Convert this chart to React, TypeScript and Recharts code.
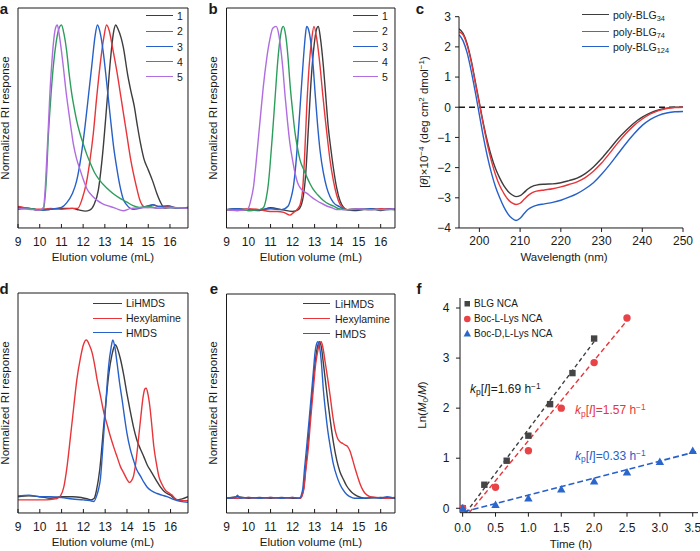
import React from 'react';
import { LineChart, ComposedChart, Line, Scatter, XAxis, YAxis, ReferenceLine } from 'recharts';

const W = 700;
const H = 551;
const FONT = '"Liberation Sans", Arial, Helvetica, sans-serif';
const INK = '#1a1a1a';
const TH = 0.01; // near-zero axis thickness so the plot box stays where the margins put it

const BLACK = '#3d3d3d';
const RED = '#e8353a';
const BLUE = '#2760c8';
const GREEN = '#2d9d5c';
const PURPLE = '#b06de0';

type Pt = [number, number];

// ---------- panel a : GPC traces 1-5 ----------
const aTrace1: Pt[] = [[9,0.005],[9.5,0],[10,-0.01],[10.5,-0.005],[11,0],[11.5,0],[11.8,-0.008],[12.1,-0.015],[12.3,-0.01],[12.5,0.02],[12.7,0.1],[12.9,0.3],[13.1,0.58],[13.25,0.8],[13.4,0.96],[13.5,1],[13.6,0.98],[13.75,0.93],[13.85,0.88],[14.05,0.73],[14.2,0.64],[14.35,0.56],[14.5,0.45],[14.65,0.35],[14.8,0.27],[15,0.21],[15.2,0.15],[15.4,0.08],[15.6,0.025],[15.75,0],[16,0.005],[16.4,0],[16.83,0]];
const aTrace2: Pt[] = [[9,0.01],[9.5,0],[10,-0.005],[10.5,0],[11,-0.005],[11.5,0],[11.75,0],[11.95,0.05],[12.15,0.14],[12.3,0.25],[12.47,0.41],[12.62,0.6],[12.78,0.78],[12.95,0.93],[13.08,1],[13.2,0.97],[13.35,0.88],[13.55,0.75],[13.75,0.6],[14,0.41],[14.2,0.26],[14.45,0.12],[14.6,0.05],[14.8,0.01],[15,0.005],[15.2,0.02],[15.5,0.01],[16,0.01],[16.4,0],[16.83,0.005]];
const aTrace3: Pt[] = [[9,-0.005],[9.5,0],[10,-0.01],[10.5,-0.005],[11,0.005],[11.24,0.03],[11.5,0.08],[11.7,0.15],[11.9,0.28],[12.09,0.45],[12.25,0.62],[12.4,0.78],[12.55,0.94],[12.66,1],[12.78,0.96],[12.93,0.85],[13.09,0.68],[13.25,0.5],[13.4,0.34],[13.55,0.22],[13.7,0.12],[13.85,0.05],[14,0.02],[14.3,-0.005],[14.6,0],[15,0.015],[15.2,0.02],[15.5,0.01],[15.9,0.015],[16.3,0],[16.83,0.005]];
const aTrace4: Pt[] = [[9,0],[9.5,0],[10,-0.01],[10.17,-0.005],[10.3,0.15],[10.4,0.4],[10.52,0.62],[10.63,0.78],[10.75,0.9],[10.86,0.97],[11,1],[11.12,0.95],[11.24,0.86],[11.35,0.74],[11.47,0.63],[11.6,0.54],[11.7,0.48],[11.85,0.41],[12.01,0.35],[12.15,0.3],[12.32,0.25],[12.55,0.19],[12.78,0.15],[13.1,0.11],[13.39,0.08],[13.7,0.055],[14,0.035],[14.3,0.015],[14.6,0.005],[15,0.01],[15.5,0],[16,0.005],[16.83,0]];
const aTrace5: Pt[] = [[9,0],[9.5,-0.005],[10,-0.01],[10.17,0.005],[10.25,0.1],[10.32,0.26],[10.4,0.45],[10.47,0.63],[10.55,0.78],[10.63,0.9],[10.72,0.98],[10.81,1],[10.92,0.93],[11,0.86],[11.09,0.77],[11.2,0.65],[11.32,0.54],[11.45,0.43],[11.55,0.35],[11.7,0.27],[11.86,0.21],[12,0.16],[12.16,0.11],[12.4,0.07],[12.63,0.045],[12.9,0.025],[13.24,0.01],[13.5,0],[13.85,-0.013],[14.2,0],[15,0.005],[15.5,0],[16,0.005],[16.83,0]];

// ---------- panel b : GPC traces 1-5 ----------
const bTrace1: Pt[] = [[9,0],[9.5,0.005],[10,0],[10.5,-0.005],[11,0.01],[11.5,0],[12,-0.01],[12.26,0],[12.45,0.05],[12.6,0.2],[12.72,0.45],[12.85,0.72],[12.98,0.9],[13.1,0.99],[13.17,1],[13.27,0.93],[13.4,0.78],[13.5,0.63],[13.62,0.45],[13.75,0.32],[13.85,0.23],[14,0.12],[14.15,0.05],[14.3,0.015],[14.45,0],[14.8,-0.005],[15.2,0],[15.6,0.005],[16,-0.005],[16.4,0.005],[16.65,0]];
const bTrace2: Pt[] = [[9,0],[9.5,-0.005],[10,0.005],[10.5,0],[11,-0.01],[11.3,-0.01],[11.6,-0.015],[11.88,-0.03],[12.05,-0.015],[12.2,0],[12.35,0.03],[12.45,0.1],[12.55,0.3],[12.64,0.55],[12.75,0.78],[12.87,0.93],[12.97,1],[13.1,0.93],[13.25,0.78],[13.36,0.64],[13.47,0.51],[13.6,0.37],[13.7,0.27],[13.85,0.16],[14,0.08],[14.15,0.03],[14.3,0.01],[14.5,0],[15,0.005],[15.5,0],[16,0.005],[16.65,0]];
const bTrace3: Pt[] = [[9,0],[9.5,0.005],[10,-0.005],[10.5,0],[11,0.005],[11.5,0],[11.8,0.02],[11.92,0.06],[12.03,0.12],[12.15,0.25],[12.26,0.42],[12.38,0.63],[12.49,0.82],[12.58,0.95],[12.64,1],[12.73,0.98],[12.87,0.87],[12.95,0.76],[13.02,0.64],[13.13,0.47],[13.25,0.32],[13.4,0.2],[13.55,0.12],[13.7,0.07],[13.85,0.04],[14.15,0.015],[14.4,0],[15,0],[15.5,0.005],[16,0],[16.65,0.005]];
const bTrace4: Pt[] = [[9,0],[9.5,0],[10,-0.005],[10.5,0],[10.67,0.01],[10.8,0.06],[10.9,0.14],[10.97,0.23],[11.08,0.4],[11.2,0.6],[11.32,0.8],[11.43,0.93],[11.52,0.99],[11.58,1],[11.66,0.97],[11.73,0.91],[11.8,0.82],[11.88,0.69],[12,0.54],[12.11,0.42],[12.22,0.34],[12.34,0.27],[12.5,0.22],[12.64,0.18],[12.8,0.14],[12.94,0.11],[13.15,0.08],[13.4,0.05],[13.65,0.03],[13.85,0.02],[14.1,0.005],[14.5,0],[15,0.005],[15.5,0],[16,0],[16.65,0]];
const bTrace5: Pt[] = [[9,0],[9.5,-0.005],[9.9,0],[10,0.01],[10.1,0.05],[10.22,0.12],[10.33,0.24],[10.44,0.38],[10.55,0.52],[10.67,0.67],[10.82,0.82],[10.97,0.93],[11.1,0.99],[11.25,1],[11.35,0.97],[11.43,0.91],[11.55,0.78],[11.66,0.62],[11.77,0.48],[11.88,0.36],[12,0.27],[12.11,0.2],[12.22,0.15],[12.34,0.12],[12.5,0.1],[12.64,0.09],[12.85,0.07],[13.09,0.05],[13.3,0.035],[13.55,0.02],[13.8,0.01],[14,0],[14.5,0],[15,0.005],[15.5,0],[16,0],[16.65,0.005]];

// ---------- panel c : CD spectra ----------
const cBLG34: Pt[] = [[195,2.6],[196,2.45],[197,2.1],[198,1.55],[199,0.85],[200,0.15],[201,-0.55],[202,-1.15],[203,-1.65],[204,-2.05],[205,-2.35],[206,-2.6],[207,-2.78],[208,-2.9],[209,-2.96],[210,-2.93],[211,-2.82],[212,-2.7],[213,-2.62],[214,-2.58],[216,-2.55],[218,-2.54],[220,-2.5],[222,-2.43],[224,-2.35],[226,-2.2],[228,-1.98],[230,-1.7],[232,-1.38],[234,-1.05],[236,-0.77],[238,-0.52],[240,-0.33],[242,-0.19],[244,-0.09],[246,-0.03],[248,0],[250,0]];
const cBLG74: Pt[] = [[195,2.5],[196,2.4],[197,2.05],[198,1.5],[199,0.8],[200,0.1],[201,-0.6],[202,-1.25],[203,-1.8],[204,-2.25],[205,-2.6],[206,-2.85],[207,-3.05],[208,-3.17],[209,-3.22],[210,-3.18],[211,-3.05],[212,-2.92],[213,-2.83],[214,-2.78],[216,-2.74],[218,-2.7],[220,-2.64],[222,-2.56],[224,-2.47],[226,-2.33],[228,-2.12],[230,-1.85],[232,-1.52],[234,-1.18],[236,-0.87],[238,-0.6],[240,-0.39],[242,-0.22],[244,-0.11],[246,-0.04],[248,-0.01],[250,0]];
const cBLG124: Pt[] = [[195,2.4],[196,2.2],[197,1.8],[198,1.2],[199,0.5],[200,-0.25],[201,-1],[202,-1.65],[203,-2.2],[204,-2.65],[205,-3],[206,-3.3],[207,-3.53],[208,-3.68],[209,-3.75],[210,-3.68],[211,-3.52],[212,-3.38],[213,-3.3],[214,-3.25],[216,-3.2],[218,-3.15],[220,-3.08],[222,-2.98],[224,-2.86],[226,-2.7],[228,-2.5],[230,-2.22],[232,-1.9],[234,-1.55],[236,-1.2],[238,-0.88],[240,-0.6],[242,-0.4],[244,-0.27],[246,-0.19],[248,-0.15],[250,-0.14]];

// ---------- panel d : initiators ----------
const dLiHMDS: Pt[] = [[9,0.01],[9.5,0.015],[10,0.01],[10.5,0],[11,0.01],[11.5,0.01],[11.9,0.005],[12.2,-0.005],[12.35,-0.01],[12.5,0],[12.6,0.05],[12.75,0.18],[12.94,0.47],[13.05,0.63],[13.17,0.79],[13.3,0.9],[13.42,0.96],[13.47,0.97],[13.55,0.95],[13.7,0.88],[13.85,0.78],[14,0.66],[14.15,0.55],[14.3,0.45],[14.45,0.37],[14.62,0.31],[14.78,0.26],[14.93,0.21],[15.1,0.17],[15.23,0.14],[15.4,0.1],[15.54,0.07],[15.7,0.045],[15.84,0.03],[16,0.02],[16.15,0],[16.3,-0.01],[16.5,-0.005],[16.8,0.01]];
const dHexylamine: Pt[] = [[9,-0.01],[9.5,-0.01],[10,-0.01],[10.3,-0.01],[10.65,-0.005],[10.8,0],[10.95,0.015],[11.1,0.07],[11.25,0.2],[11.4,0.38],[11.56,0.58],[11.7,0.75],[11.87,0.89],[12,0.97],[12.14,1],[12.27,0.97],[12.4,0.92],[12.52,0.84],[12.63,0.75],[12.78,0.65],[12.94,0.54],[13.1,0.46],[13.24,0.39],[13.4,0.32],[13.55,0.26],[13.7,0.2],[13.85,0.16],[14,0.12],[14.11,0.1],[14.2,0.11],[14.3,0.14],[14.42,0.24],[14.54,0.39],[14.64,0.52],[14.74,0.64],[14.82,0.69],[14.88,0.695],[14.96,0.66],[15.05,0.58],[15.14,0.46],[15.23,0.33],[15.35,0.22],[15.46,0.14],[15.6,0.09],[15.77,0.05],[15.92,0.035],[16.07,0.02],[16.2,0],[16.3,-0.01],[16.5,-0.015],[16.8,-0.015]];
const dHMDS: Pt[] = [[9,0.015],[9.5,0.02],[10,0.01],[10.5,0.01],[11,0.005],[11.5,-0.005],[12,-0.01],[12.3,-0.015],[12.48,-0.02],[12.62,0.02],[12.7,0.06],[12.78,0.12],[12.88,0.3],[13,0.54],[13.1,0.74],[13.17,0.85],[13.27,0.95],[13.35,1],[13.45,0.95],[13.55,0.85],[13.66,0.73],[13.78,0.62],[13.9,0.5],[14,0.41],[14.15,0.31],[14.3,0.24],[14.45,0.18],[14.62,0.14],[14.78,0.1],[14.93,0.07],[15.15,0.045],[15.38,0.03],[15.6,0.02],[15.84,0.01],[16.1,-0.005],[16.45,-0.02],[16.8,-0.025]];

// ---------- panel e : initiators ----------
const eLiHMDS: Pt[] = [[9,0],[9.5,0.01],[10,0],[10.5,0.005],[11,0],[11.5,0.005],[12,0],[12.35,0],[12.5,0.06],[12.6,0.2],[12.7,0.35],[12.8,0.52],[12.92,0.72],[13.02,0.86],[13.12,0.96],[13.22,1],[13.3,0.97],[13.4,0.86],[13.5,0.74],[13.6,0.62],[13.71,0.5],[13.85,0.36],[14.01,0.24],[14.15,0.17],[14.31,0.12],[14.45,0.08],[14.61,0.05],[14.75,0.03],[14.92,0.015],[15.1,0.005],[15.3,0],[16,0.005],[16.65,0]];
const eHexylamine: Pt[] = [[9,0],[9.5,0],[10,0.005],[10.5,0],[11,0.005],[11.5,0],[12,0.005],[12.35,0],[12.5,0.05],[12.6,0.18],[12.72,0.33],[12.83,0.52],[12.95,0.71],[13.05,0.86],[13.13,0.93],[13.22,0.99],[13.3,1],[13.38,0.96],[13.48,0.87],[13.6,0.76],[13.71,0.65],[13.83,0.52],[13.94,0.43],[14.05,0.38],[14.16,0.36],[14.28,0.35],[14.39,0.34],[14.5,0.33],[14.61,0.3],[14.72,0.25],[14.84,0.19],[14.95,0.14],[15.07,0.09],[15.2,0.05],[15.3,0.03],[15.52,0.01],[15.8,0.005],[16.2,0],[16.65,0.005]];
const eHMDS: Pt[] = [[9,0],[9.4,0.005],[9.5,0.02],[9.6,0],[10,0.005],[10.5,0],[11,0.005],[11.5,0],[12,0.005],[12.3,0],[12.45,0.05],[12.55,0.2],[12.64,0.33],[12.75,0.5],[12.87,0.69],[12.95,0.82],[13.02,0.93],[13.1,0.99],[13.15,1],[13.22,0.97],[13.3,0.88],[13.4,0.69],[13.5,0.55],[13.6,0.43],[13.71,0.33],[13.85,0.22],[14.01,0.14],[14.15,0.09],[14.31,0.05],[14.45,0.025],[14.61,0.01],[14.8,0],[15.2,0],[15.6,0.005],[16,0],[16.3,0.01],[16.65,0]];

// ---------- panel f : kinetics ----------
const fBLGTime = [0, 0.33, 0.67, 1.0, 1.33, 1.67, 2.0];
const fBLGLn = [0, 0.47, 0.95, 1.45, 2.08, 2.7, 3.39];
const fLLysTime = [0, 0.5, 1.0, 1.5, 2.0, 2.5];
const fLLysLn = [0, 0.42, 1.15, 2.0, 2.91, 3.8];
const fDLLysTime = [0, 0.5, 1.0, 1.5, 2.0, 2.5, 3.0, 3.5];
const fDLLysLn = [0, 0.07, 0.2, 0.38, 0.54, 0.72, 0.93, 1.15];
const fFitBLG: Pt[] = [[0.05, -0.09], [2.0, 3.33]];
const fFitLLys: Pt[] = [[0.1, -0.09], [2.5, 3.75]];
const fFitDLLys: Pt[] = [[0.02, -0.07], [3.55, 1.13]];

// ticks
const gpcTicks = [9, 10, 11, 12, 13, 14, 15, 16];
const gpcMinor = [9.5, 10.5, 11.5, 12.5, 13.5, 14.5, 15.5, 16.5];
const cdXTicks = [200, 210, 220, 230, 240, 250];
const cdXMinor = [195, 205, 215, 225, 235, 245];
const cdYTicks = [-4, -3, -2, -1, 0, 1, 2, 3];
const cdYMinor = [-3.5, -2.5, -1.5, -0.5, 0.5, 1.5, 2.5];
const fXTicks = [0, 0.5, 1, 1.5, 2, 2.5, 3, 3.5];
const fXMinor = [0.25, 0.75, 1.25, 1.75, 2.25, 2.75, 3.25];
const fYTicks = [0, 1, 2, 3, 4];
const fYMinor = [0.5, 1.5, 2.5, 3.5];

const toXY = (pts: Pt[]) => pts.map(([x, y]) => ({ x, y }));
const zipXY = (xs: number[], ys: number[]) => xs.map((x, i) => ({ x, y: ys[i] }));
const tickStyle = { fontSize: 12, fill: INK, fontFamily: FONT };
const axisLine = { stroke: INK, strokeWidth: 1 };
const minus = (v: number) => (v < 0 ? `\u2212${Math.abs(v)}` : `${v}`);
const LW = 1.4;

type Series = { name: string; data: Pt[]; color: string };

function Gpc({ L, R, T, B, xMax, yMin, yMax, series }: any) {
  const xd = [9, xMax];
  const yd = [yMin, yMax];
  return (
    <div style={{ position: 'absolute', left: 0, top: 0 }}>
      <LineChart width={W} height={H} margin={{ top: T, left: L, right: W - R, bottom: H - B }}>
        <XAxis xAxisId="m" type="number" dataKey="x" domain={xd} allowDataOverflow ticks={gpcTicks} interval={0}
          height={TH} tickSize={-4} tickMargin={13} tick={tickStyle} axisLine={axisLine} tickLine={axisLine} />
        <XAxis xAxisId="n" type="number" dataKey="x" domain={xd} allowDataOverflow ticks={gpcMinor} interval={0}
          height={TH} tickSize={-2.5} tick={false} axisLine={false} tickLine={axisLine} />
        <XAxis xAxisId="t" orientation="top" type="number" dataKey="x" domain={xd} allowDataOverflow height={TH}
          tick={false} tickLine={false} axisLine={axisLine} />
        <YAxis yAxisId="m" type="number" dataKey="y" domain={yd} allowDataOverflow width={TH}
          tick={false} tickLine={false} axisLine={axisLine} />
        <YAxis yAxisId="r" orientation="right" type="number" dataKey="y" domain={yd} allowDataOverflow width={TH}
          tick={false} tickLine={false} axisLine={axisLine} />
        {series.map((s: Series) => (
          <Line key={s.name} xAxisId="m" yAxisId="m" data={toXY(s.data)} dataKey="y" type="monotone"
            stroke={s.color} strokeWidth={LW} dot={false} isAnimationActive={false} />
        ))}
      </LineChart>
    </div>
  );
}

function PanelC() {
  const xd = [195, 250];
  const yd = [-4, 3];
  const series: Series[] = [
    { name: '34', data: cBLG34, color: BLACK },
    { name: '74', data: cBLG74, color: RED },
    { name: '124', data: cBLG124, color: BLUE },
  ];
  return (
    <div style={{ position: 'absolute', left: 0, top: 0 }}>
      <LineChart width={W} height={H} margin={{ top: 16.7, left: 459, right: W - 683, bottom: H - 228 }}>
        <XAxis xAxisId="m" type="number" dataKey="x" domain={xd} allowDataOverflow ticks={cdXTicks} interval={0}
          height={TH} tickSize={4} tickMargin={4} tick={tickStyle} axisLine={axisLine} tickLine={axisLine} />
        <XAxis xAxisId="n" type="number" dataKey="x" domain={xd} allowDataOverflow ticks={cdXMinor} interval={0}
          height={TH} tickSize={2.5} tick={false} axisLine={false} tickLine={axisLine} />
        <YAxis yAxisId="m" type="number" dataKey="y" domain={yd} allowDataOverflow ticks={cdYTicks} interval={0}
          width={TH} tickSize={4} tickMargin={4} tick={tickStyle} tickFormatter={minus} axisLine={axisLine} tickLine={axisLine} />
        <YAxis yAxisId="n" type="number" dataKey="y" domain={yd} allowDataOverflow ticks={cdYMinor} interval={0}
          width={TH} tickSize={2.5} tick={false} axisLine={false} tickLine={axisLine} />
        <ReferenceLine xAxisId="m" yAxisId="m" y={0} stroke={INK} strokeWidth={1.3} strokeDasharray="6 4" />
        {series.map((s) => (
          <Line key={s.name} xAxisId="m" yAxisId="m" data={toXY(s.data)} dataKey="y" type="monotone"
            stroke={s.color} strokeWidth={LW} dot={false} isAnimationActive={false} />
        ))}
      </LineChart>
    </div>
  );
}

const Square = (p: any) => <rect x={p.cx - 3.2} y={p.cy - 3.2} width={6.4} height={6.4} fill="#454545" />;
const Dot = (p: any) => <circle cx={p.cx} cy={p.cy} r={3.7} fill="#e84448" />;
const Tri = (p: any) => (
  <polygon points={`${p.cx},${p.cy - 4.3} ${p.cx - 4.2},${p.cy + 3.2} ${p.cx + 4.2},${p.cy + 3.2}`} fill="#2a66cc" />
);

function PanelF() {
  const xd = [-0.04, 3.58];
  const yd = [-0.088, 4.2];
  return (
    <div style={{ position: 'absolute', left: 0, top: 0 }}>
      <ComposedChart width={W} height={H} margin={{ top: 298, left: 460, right: W - 698, bottom: H - 512.7 }}>
        <XAxis xAxisId="m" type="number" dataKey="x" domain={xd} allowDataOverflow ticks={fXTicks} interval={0}
          height={TH} tickSize={4} tickMargin={7} tick={tickStyle} tickFormatter={(v: number) => v.toFixed(1)}
          axisLine={axisLine} tickLine={axisLine} />
        <XAxis xAxisId="n" type="number" dataKey="x" domain={xd} allowDataOverflow ticks={fXMinor} interval={0}
          height={TH} tickSize={2.5} tick={false} axisLine={false} tickLine={axisLine} />
        <YAxis yAxisId="m" type="number" dataKey="y" domain={yd} allowDataOverflow ticks={fYTicks} interval={0}
          width={TH} tickSize={4} tickMargin={6.5} tick={tickStyle} axisLine={axisLine} tickLine={axisLine} />
        <YAxis yAxisId="n" type="number" dataKey="y" domain={yd} allowDataOverflow ticks={fYMinor} interval={0}
          width={TH} tickSize={2.5} tick={false} axisLine={false} tickLine={axisLine} />
        <Line xAxisId="m" yAxisId="m" data={toXY(fFitBLG)} dataKey="y" type="linear" stroke={BLACK}
          strokeWidth={1.4} strokeDasharray="4 3" dot={false} isAnimationActive={false} />
        <Line xAxisId="m" yAxisId="m" data={toXY(fFitLLys)} dataKey="y" type="linear" stroke={RED}
          strokeWidth={1.4} strokeDasharray="5 3" dot={false} isAnimationActive={false} />
        <Line xAxisId="m" yAxisId="m" data={toXY(fFitDLLys)} dataKey="y" type="linear" stroke={BLUE}
          strokeWidth={1.6} strokeDasharray="6 3" dot={false} isAnimationActive={false} />
        <Scatter xAxisId="m" yAxisId="m" data={zipXY(fBLGTime, fBLGLn)} dataKey="y" shape={Square} isAnimationActive={false} />
        <Scatter xAxisId="m" yAxisId="m" data={zipXY(fLLysTime, fLLysLn)} dataKey="y" shape={Dot} isAnimationActive={false} />
        <Scatter xAxisId="m" yAxisId="m" data={zipXY(fDLLysTime, fDLLysLn)} dataKey="y" shape={Tri} isAnimationActive={false} />
      </ComposedChart>
    </div>
  );
}

// ---------- text helpers ----------
function T({ x, y, children, size = 11.5, rot = 0, anchor = 'middle', color = INK, bold = false }: any) {
  const tx = anchor === 'start' ? '0' : anchor === 'end' ? '-100%' : '-50%';
  return (
    <div style={{
      position: 'absolute', left: x, top: y, transform: `translate(${tx}, -50%) rotate(${rot}deg)`,
      fontSize: size, color, fontWeight: bold ? 700 : 400, whiteSpace: 'nowrap', lineHeight: 1, fontFamily: FONT,
    }}>{children}</div>
  );
}

const sup = (s: string) => <span style={{ fontSize: '0.7em', position: 'relative', top: '-0.45em' }}>{s}</span>;
const sub = (s: string) => <span style={{ fontSize: '0.7em', position: 'relative', top: '0.3em' }}>{s}</span>;

function LineLegend({ x1, x2, tx, rows, size = 10.5 }: any) {
  return (
    <>
      {rows.map((r: any) => (
        <React.Fragment key={r.key}>
          <div style={{ position: 'absolute', left: x1, top: r.y - 0.75, width: x2 - x1, height: 0, borderTop: `1.5px solid ${r.color}` }} />
          <T x={tx} y={r.y} anchor="start" size={size}>{r.label}</T>
        </React.Fragment>
      ))}
    </>
  );
}

const numRows = (ys: number[]) =>
  [BLACK, RED, BLUE, GREEN, PURPLE].map((c, i) => ({ key: i, y: ys[i], color: c, label: String(i + 1) }));
const initRows = (ys: number[]) => [
  { key: 0, y: ys[0], color: BLACK, label: 'LiHMDS' },
  { key: 1, y: ys[1], color: RED, label: 'Hexylamine' },
  { key: 2, y: ys[2], color: BLUE, label: 'HMDS' },
];

const kp = (val: string, color: string, x: number, y: number) => (
  <T x={x} y={y} anchor="start" size={12} color={color}>
    <i>k</i>{sub('p')}[<i>I</i>]={val} h{sup('\u22121')}
  </T>
);

export default function App() {
  const aSeries: Series[] = [
    { name: '1', data: aTrace1, color: BLACK }, { name: '2', data: aTrace2, color: RED },
    { name: '3', data: aTrace3, color: BLUE }, { name: '4', data: aTrace4, color: GREEN },
    { name: '5', data: aTrace5, color: PURPLE },
  ];
  const bSeries: Series[] = [
    { name: '1', data: bTrace1, color: BLACK }, { name: '2', data: bTrace2, color: RED },
    { name: '3', data: bTrace3, color: BLUE }, { name: '4', data: bTrace4, color: GREEN },
    { name: '5', data: bTrace5, color: PURPLE },
  ];
  const dSeries: Series[] = [
    { name: 'LiHMDS', data: dLiHMDS, color: BLACK }, { name: 'Hex', data: dHexylamine, color: RED },
    { name: 'HMDS', data: dHMDS, color: BLUE },
  ];
  const eSeries: Series[] = [
    { name: 'LiHMDS', data: eLiHMDS, color: BLACK }, { name: 'Hex', data: eHexylamine, color: RED },
    { name: 'HMDS', data: eHMDS, color: BLUE },
  ];
  const rowsABC = [16, 31.3, 46.6, 61.9, 77.2];
  return (
    <div style={{ position: 'absolute', left: 0, top: 0, width: W, height: H, background: '#fff', overflow: 'hidden', fontFamily: FONT }}>
      <Gpc L={18} R={188} T={8} B={228} xMax={16.83} yMin={-0.107} yMax={1.093} series={aSeries} />
      <Gpc L={226.5} R={395} T={8} B={228} xMax={16.65} yMin={-0.1} yMax={1.1} series={bSeries} />
      <PanelC />
      <Gpc L={18} R={188} T={293} B={513} xMax={16.8} yMin={-0.093} yMax={1.297} series={dSeries} />
      <Gpc L={226.5} R={395} T={294} B={513} xMax={16.65} yMin={-0.094} yMax={1.305} series={eSeries} />
      <PanelF />

      {/* panel letters */}
      <T x={4} y={8} size={15} bold>a</T>
      <T x={213} y={8} size={15} bold>b</T>
      <T x={420} y={8} size={15} bold>c</T>
      <T x={4} y={288} size={15} bold>d</T>
      <T x={214} y={288} size={15} bold>e</T>
      <T x={419} y={288} size={15} bold>f</T>

      {/* axis titles */}
      <T x={6} y={118} rot={-90}>Normalized RI response</T>
      <T x={213.5} y={118} rot={-90}>Normalized RI response</T>
      <T x={6} y={403} rot={-90}>Normalized RI response</T>
      <T x={213.5} y={403} rot={-90}>Normalized RI response</T>
      <T x={103} y={258}>Elution volume (mL)</T>
      <T x={311} y={258}>Elution volume (mL)</T>
      <T x={103} y={543}>Elution volume (mL)</T>
      <T x={311} y={543}>Elution volume (mL)</T>
      <T x={564} y={257.5}>Wavelength (nm)</T>
      <T x={571} y={545}>Time (h)</T>
      <T x={425} y={122} rot={-90}>[<i>θ</i>]×10{sup('\u22124')} (deg cm{sup('2')} dmol{sup('\u22121')})</T>
      <T x={423} y={405} rot={-90}>Ln(<i>M</i>{sub('0')}/<i>M</i>)</T>

      {/* legends */}
      <LineLegend x1={146} x2={173} tx={177} rows={numRows(rowsABC)} />
      <LineLegend x1={353} x2={378} tx={382} rows={numRows(rowsABC)} />
      <LineLegend x1={582} x2={609} tx={613} rows={[
        { key: 0, y: 15, color: BLACK, label: <>poly-BLG{sub('34')}</> },
        { key: 1, y: 31.5, color: RED, label: <>poly-BLG{sub('74')}</> },
        { key: 2, y: 47, color: BLUE, label: <>poly-BLG{sub('124')}</> },
      ]} />
      <LineLegend x1={93} x2={122} tx={126} rows={initRows([303.3, 318.3, 333])} />
      <LineLegend x1={303} x2={330} tx={335} rows={initRows([304, 319, 334])} />

      {/* panel f legend */}
      <svg width={W} height={H} style={{ position: 'absolute', left: 0, top: 0, pointerEvents: 'none' }}>
        <rect x={464.5} y={301} width={5.5} height={5.5} fill="#454545" />
        <circle cx={467.3} cy={319} r={3.3} fill="#e84448" />
        <polygon points="467.3,329.7 463.6,336.5 471,336.5" fill="#2a66cc" />
      </svg>
      <T x={474} y={304} anchor="start" size={10}>BLG NCA</T>
      <T x={474} y={319} anchor="start" size={10}>Boc-L-Lys NCA</T>
      <T x={474} y={333.5} anchor="start" size={10}>Boc-D,L-Lys NCA</T>

      {kp('1.69', INK, 470, 388.5)}
      {kp('1.57', RED, 575, 410)}
      {kp('0.33', BLUE, 575, 455.5)}
    </div>
  );
}
